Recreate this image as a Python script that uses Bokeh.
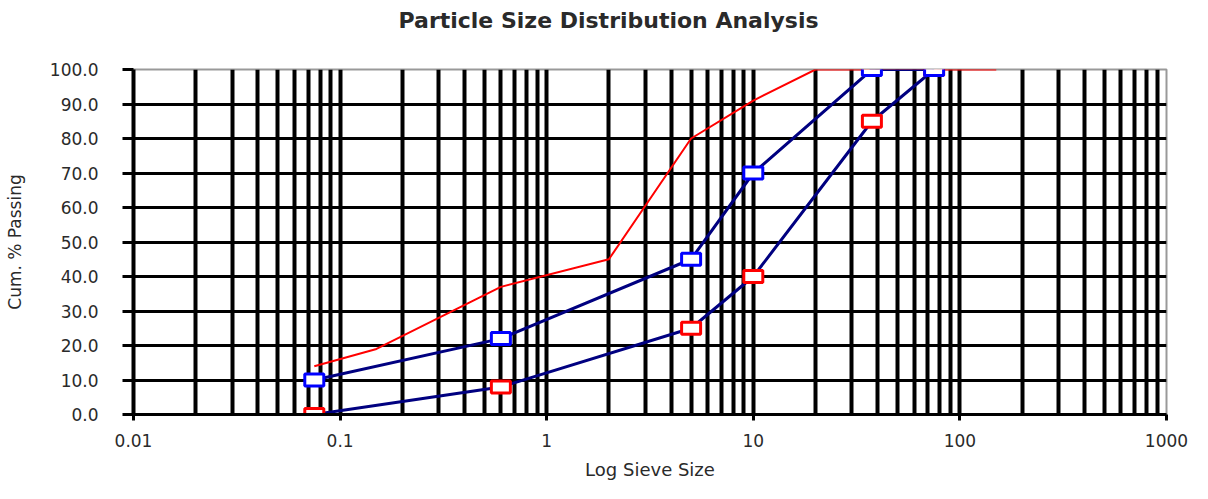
from bokeh.plotting import figure
from bokeh.models import (Range1d, FixedTicker, NumeralTickFormatter,
                          CustomJSTickFormatter, Title)
from bokeh.embed import file_html
from bokeh.resources import INLINE

# ---- data ----
sieve_env = [0.075, 0.6, 5, 10, 37.5, 75]
upper_env = [10, 22, 45, 70, 100, 100]
lower_env = [0, 8, 25, 40, 85, 100]

sample_size = [0.075, 0.15, 0.6, 2, 5, 10, 20, 150]
sample_pass = [14, 19, 37, 45, 80, 91, 100, 100]

x_ticks = [0.01, 0.1, 1, 10, 100, 1000]
y_ticks = [0, 10, 20, 30, 40, 50, 60, 70, 80, 90, 100]

FONT = "DejaVu Sans"
TXT = "#2a2a2a"

p = figure(width=1192, height=483, x_axis_type="log",
           x_range=Range1d(0.01, 1000), y_range=Range1d(0, 100),
           output_backend="svg", toolbar_location=None)
p.min_border_left = 133
p.min_border_right = 26
p.min_border_top = 68
p.min_border_bottom = 69

# the real title (outermost)
p.title.text = "Particle Size Distribution Analysis"
p.title.align = "left"
p.title.offset = 265
p.title.text_font = FONT
p.title.text_font_size = "22px"
p.title.text_font_style = "bold"
p.title.text_color = TXT

# spacer between the frame and the title
spacer = Title(text=" ", text_font_size="18px")
p.add_layout(spacer, "above")

p.outline_line_color = "#999999"
p.outline_line_width = 2

# x axis
minor = [m * d for d in x_ticks[:-1] for m in range(2, 10)]
p.xaxis.ticker = FixedTicker(ticks=x_ticks, minor_ticks=minor)
p.xaxis.formatter = CustomJSTickFormatter(code="return tick.toString()")
p.xaxis.axis_label = "Log Sieve Size"
p.xaxis.axis_label_text_font = FONT
p.xaxis.axis_label_text_font_size = "18px"
p.xaxis.axis_label_text_font_style = "normal"
p.xaxis.axis_label_text_color = TXT
p.xaxis.axis_label_standoff = 9
p.xaxis.major_label_text_font = FONT
p.xaxis.major_label_text_font_size = "17px"
p.xaxis.major_label_text_color = TXT
p.xaxis.major_label_standoff = 13
p.xaxis.major_tick_out = 6
p.xaxis.major_tick_in = 0
p.xaxis.major_tick_line_width = 3
p.xaxis.major_tick_line_color = "black"
p.xaxis.minor_tick_line_color = None
p.xaxis.axis_line_width = 3
p.xaxis.axis_line_color = "black"

# y axis
p.yaxis.ticker = FixedTicker(ticks=y_ticks)
p.yaxis.formatter = NumeralTickFormatter(format="0.0")
p.yaxis.axis_label = "Cum. % Passing"
p.yaxis.axis_label_text_font = FONT
p.yaxis.axis_label_text_font_size = "17px"
p.yaxis.axis_label_text_font_style = "normal"
p.yaxis.axis_label_text_color = TXT
p.yaxis.axis_label_standoff = 22
p.yaxis.major_label_text_font = FONT
p.yaxis.major_label_text_font_size = "17px"
p.yaxis.major_label_text_color = TXT
p.yaxis.major_label_standoff = 24
p.yaxis.major_tick_out = 11
p.yaxis.major_tick_in = 0
p.yaxis.major_tick_line_width = 3
p.yaxis.major_tick_line_color = "black"
p.yaxis.minor_tick_line_color = None
p.yaxis.axis_line_width = 4
p.yaxis.axis_line_color = "black"

# grids
p.xgrid.grid_line_color = "black"
p.xgrid.grid_line_width = 4
p.xgrid.minor_grid_line_color = "black"
p.xgrid.minor_grid_line_width = 4
p.ygrid.ticker = FixedTicker(ticks=y_ticks[1:-1])
p.ygrid.grid_line_color = "black"
p.ygrid.grid_line_width = 3

# series
p.line(sample_size, sample_pass, line_color="#ff0000", line_width=2)
p.line(sieve_env, upper_env, line_color="#000080", line_width=3)
p.line(sieve_env, lower_env, line_color="#000080", line_width=3)
p.rect(sieve_env, lower_env, width=19, height=12, width_units="screen",
       height_units="screen", fill_color="white", line_color="#ff0000",
       line_width=3)
p.rect(sieve_env, upper_env, width=19, height=12, width_units="screen",
       height_units="screen", fill_color="white", line_color="#0000ff",
       line_width=3)

open("out.html", "w").write(file_html(p, INLINE))
